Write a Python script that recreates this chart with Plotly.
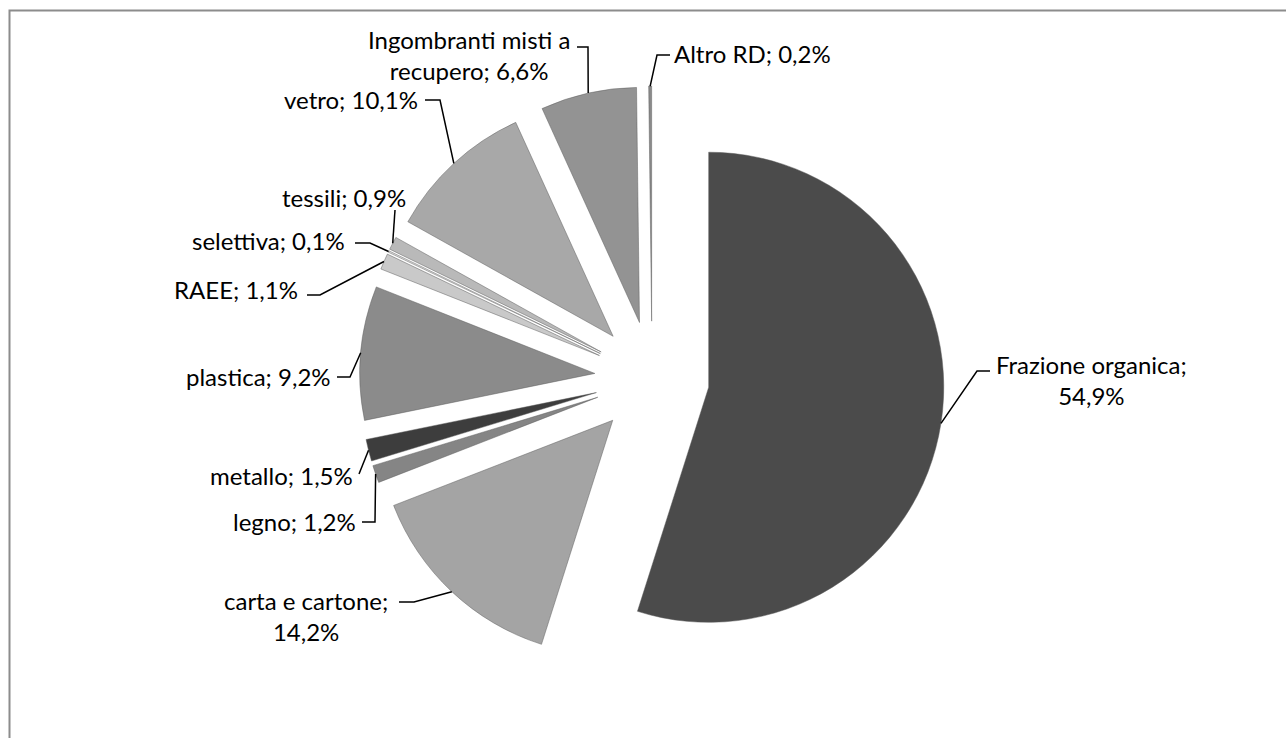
import math
import plotly.graph_objects as go

# ---------------- data ----------------
categories = ["Frazione organica", "carta e cartone", "legno", "metallo", "plastica",
              "RAEE", "selettiva", "tessili", "vetro", "Ingombranti misti a recupero", "Altro RD"]
values = [54.9, 14.2, 1.2, 1.5, 9.2, 1.1, 0.1, 0.9, 10.1, 6.6, 0.2]
label_texts = ["Frazione organica;<br>54,9%", "carta e cartone;<br>14,2%", "legno; 1,2%",
               "metallo; 1,5%", "plastica; 9,2%", "RAEE; 1,1%", "selettiva; 0,1%",
               "tessili; 0,9%", "vetro; 10,1%", "Ingombranti misti a<br>recupero; 6,6%",
               "Altro RD; 0,2%"]
colors = ["#4b4b4b", "#a4a4a4", "#858585", "#3d3d3d", "#8b8b8b",
          "#c9c9c9", "#e2e2e2", "#b9b9b9", "#a8a8a8", "#939393", "#8a8a8a"]

# ---------------- layout parameters ----------------
W, H = 1286, 738
PULL = 0.244
DOM_X = [0.2796, 0.7344]
DOM_Y = [0.0908, 0.8835]
FONT = "Lato"
FSIZE = 24

# label placement (pixel positions of the text) and leader elbow points
# (x, y, xanchor, elbow points from text toward slice)
label_pos = [
    (1091, 380, "center", [(990, 371), (977, 371)]),
    (306, 616, "center", [(399, 602), (414, 602)]),
    (358, 521, "right", [(362, 522), (375, 522)]),
    (355, 475, "right", [(359, 474)]),
    (333, 376, "right", [(337, 377), (350, 377)]),
    (300, 289, "right", [(307, 295), (320, 295)]),
    (347, 240, "right", [(355, 243), (370, 243)]),
    (408, 197, "right", [(395, 210)]),
    (420, 100, "right", [(425, 100), (440, 100)]),
    (469, 55, "center", [(577, 47), (588, 47)]),
    (672, 53, "left", [(670, 55), (657, 55)]),
]


def px(x):
    return x / W


def py(y):
    return 1 - y / H


fig = go.Figure(go.Pie(
    labels=categories,
    values=values,
    sort=False,
    direction="clockwise",
    rotation=0,
    pull=[PULL] * len(values),
    marker=dict(colors=colors, line=dict(color="rgba(90,90,90,0.6)", width=0.8)),
    textinfo="none",
    hoverinfo="label+percent",
    domain=dict(x=DOM_X, y=DOM_Y),
    showlegend=False,
))

# geometry as plotly computes it (margins are 0)
avail = min(W * (DOM_X[1] - DOM_X[0]), H * (DOM_Y[1] - DOM_Y[0]))
r = avail / (2 + 2 * PULL)
cx = W * (DOM_X[0] + DOM_X[1]) / 2
cy = H * (1 - DOM_Y[0]) - H * (DOM_Y[1] - DOM_Y[0]) / 2

total = sum(values)
cum = 0.0
shapes = []
annotations = []
for v, txt, (lx, ly, anc, elbows) in zip(values, label_texts, label_pos):
    mid = (cum + v / 2) / total * 2 * math.pi
    cum += v
    ax = cx + r * (1 + PULL) * math.sin(mid)
    ay = cy - r * (1 + PULL) * math.cos(mid)
    pts = list(elbows) + [(ax, ay)]
    path = "M " + " L ".join(f"{px(x):.5f},{py(y):.5f}" for x, y in pts)
    shapes.append(dict(type="path", xref="paper", yref="paper", path=path,
                       line=dict(color="black", width=1.5)))
    annotations.append(dict(text=txt, x=px(lx), y=py(ly), xref="paper", yref="paper",
                            xanchor=anc, yanchor="middle", align="center", showarrow=False,
                            font=dict(family=FONT, size=FSIZE, color="black")))

# chart border
shapes.append(dict(type="rect", xref="paper", yref="paper",
                   x0=px(9.5), x1=1.05, y0=-0.05, y1=py(10.5),
                   line=dict(color="#8c8c8c", width=2), fillcolor="rgba(0,0,0,0)"))

fig.update_layout(
    width=W, height=H,
    margin=dict(l=0, r=0, t=0, b=0),
    paper_bgcolor="white",
    plot_bgcolor="white",
    shapes=shapes,
    annotations=annotations,
    font=dict(family=FONT, size=FSIZE),
)

fig.write_html("out.html", config={"displayModeBar": False},
               post_script="document.body.style.margin='0';")
